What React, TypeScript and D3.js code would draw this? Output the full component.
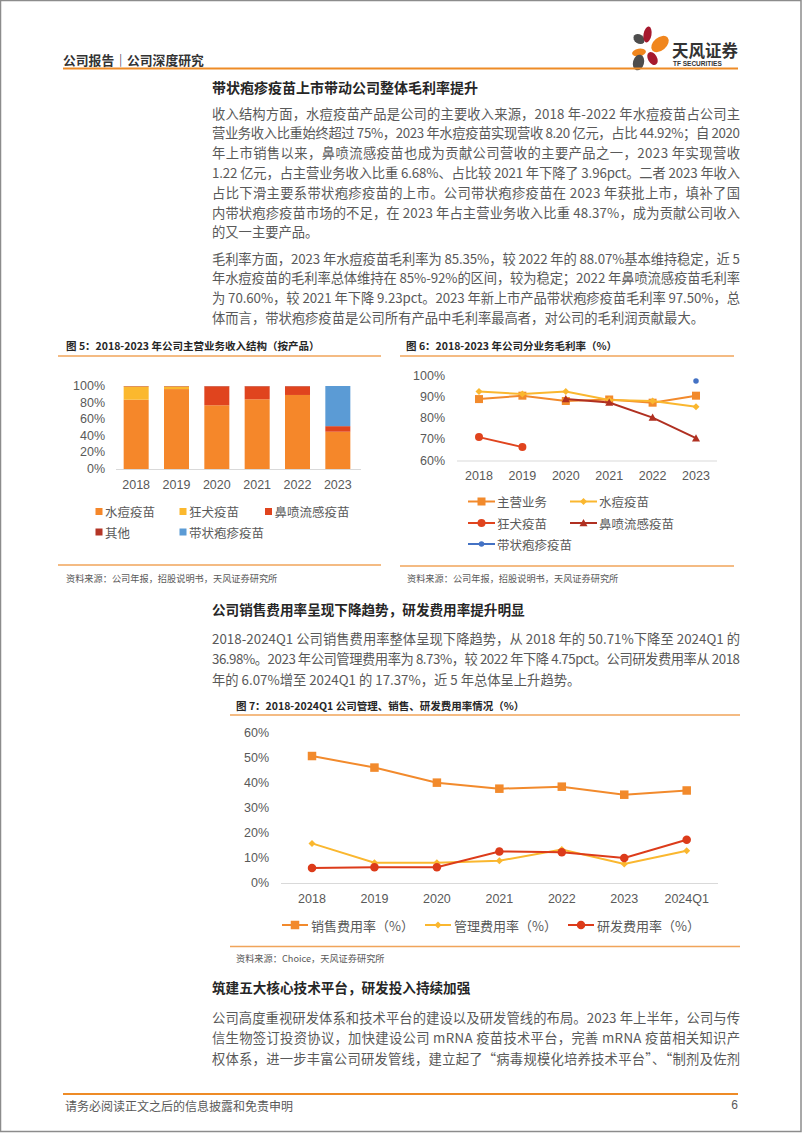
import React from 'react';
import * as d3 from 'd3';

const W = 802;
const H = 1133;
const CJK = '"Noto Sans CJK SC", "Noto Sans", sans-serif';
const NUM = '"Liberation Sans", Arial, sans-serif';

// ---------- Figure 5: revenue structure (stacked %, by product)
const years5 = ['2018', '2019', '2020', '2021', '2022', '2023'];
const shuidou5 = [83.5, 96.3, 76.8, 84.0, 89.2, 44.92];
const kuangquan5 = [16.0, 3.2, 0, 0, 0, 0];
const bipen5 = [0, 0, 22.7, 15.5, 10.3, 6.68];
const qita5 = [0.5, 0.5, 0.5, 0.5, 0.5, 0.03];
const daizhuang5 = [0, 0, 0, 0, 0, 48.37];
const keys5 = ['水痘疫苗', '狂犬疫苗', '鼻喷流感疫苗', '其他', '带状疱疹疫苗'];
const colors5 = ['#F5872A', '#FBB82E', '#E0441E', '#B43526', '#5B9BD5'];
const ticks5 = [0, 20, 40, 60, 80, 100];

// ---------- Figure 6: gross margin by business
const years6 = ['2018', '2019', '2020', '2021', '2022', '2023'];
const zhuying6: (number | null)[] = [89.0, 90.6, 88.1, 88.8, 87.3, 90.6];
const shuidou6: (number | null)[] = [92.6, 91.4, 92.6, 88.6, 88.07, 85.35];
const kuangquan6: (number | null)[] = [71.1, 66.4, null, null, null, null];
const bipen6: (number | null)[] = [null, null, 89.0, 87.4, 80.3, 70.6];
const daizhuang6: (number | null)[] = [null, null, null, null, null, 97.5];
const ticks6 = [60, 70, 80, 90, 100];

// ---------- Figure 7: expense ratios
const periods7 = ['2018', '2019', '2020', '2021', '2022', '2023', '2024Q1'];
const xiaoshou7 = [50.71, 46.1, 40.1, 37.7, 38.5, 35.3, 36.98];
const guanli7 = [15.9, 8.2, 8.2, 9.0, 13.48, 7.7, 13.0];
const yanfa7 = [6.07, 6.4, 6.4, 12.7, 12.4, 10.1, 17.37];
const ticks7 = [0, 10, 20, 30, 40, 50, 60];

// ---------- Text
const para1 = [
  '收入结构方面，水痘疫苗产品是公司的主要收入来源，2018 年-2022 年水痘疫苗占公司主',
  '营业务收入比重始终超过 75%，2023 年水痘疫苗实现营收 8.20 亿元，占比 44.92%；自 2020',
  '年上市销售以来，鼻喷流感疫苗也成为贡献公司营收的主要产品之一，2023 年实现营收',
  '1.22 亿元，占主营业务收入比重 6.68%、占比较 2021 年下降了 3.96pct。二者 2023 年收入',
  '占比下滑主要系带状疱疹疫苗的上市。公司带状疱疹疫苗在 2023 年获批上市，填补了国',
  '内带状疱疹疫苗市场的不足，在 2023 年占主营业务收入比重 48.37%，成为贡献公司收入',
  '的又一主要产品。',
];
const para2 = [
  '毛利率方面，2023 年水痘疫苗毛利率为 85.35%，较 2022 年的 88.07%基本维持稳定，近 5',
  '年水痘疫苗的毛利率总体维持在 85%-92%的区间，较为稳定；2022 年鼻喷流感疫苗毛利率',
  '为 70.60%，较 2021 年下降 9.23pct。2023 年新上市产品带状疱疹疫苗毛利率 97.50%，总',
  '体而言，带状疱疹疫苗是公司所有产品中毛利率最高者，对公司的毛利润贡献最大。',
];
const para3 = [
  '2018-2024Q1 公司销售费用率整体呈现下降趋势，从 2018 年的 50.71%下降至 2024Q1 的',
  '36.98%。2023 年公司管理费用率为 8.73%，较 2022 年下降 4.75pct。公司研发费用率从 2018',
  '年的 6.07%增至 2024Q1 的 17.37%，近 5 年总体呈上升趋势。',
];
const para4 = [
  '公司高度重视研发体系和技术平台的建设以及研发管线的布局。2023 年上半年，公司与传',
  '信生物签订投资协议，加快建设公司 mRNA 疫苗技术平台，完善 mRNA 疫苗相关知识产',
  '权体系，进一步丰富公司研发管线，建立起了“病毒规模化培养技术平台”、“制剂及佐剂',
];

const ORANGE_LINE = '#F0A45A';
const TEXT = '#595959';
const TITLE = '#262626';

function Para({ lines, y0, step, justifyLast }: { lines: string[]; y0: number; step: number; justifyLast?: boolean }) {
  return (
    <g>
      {lines.map((l, i) => {
        const full = i < lines.length - 1 || justifyLast;
        return (
          <text
            key={i}
            x={212}
            y={y0 + i * step}
            fontFamily={CJK}
            fontSize={13.3}
            fill={TEXT}
            dominantBaseline="central"
            {...(full ? { textLength: 528, lengthAdjust: 'spacing' } : {})}
          >
            {l}
          </text>
        );
      })}
    </g>
  );
}

function Marker({ type, x, y, s, color }: { type: string; x: number; y: number; s: number; color: string }) {
  if (type === 'square') return <rect x={x - s / 2} y={y - s / 2} width={s} height={s} fill={color} />;
  if (type === 'circle') return <circle cx={x} cy={y} r={s / 2} fill={color} />;
  if (type === 'diamond')
    return <path d={`M${x},${y - s / 2}L${x + s / 2},${y}L${x},${y + s / 2}L${x - s / 2},${y}Z`} fill={color} />;
  return <path d={`M${x},${y - s / 2}L${x + s / 2},${y + s * 0.4}L${x - s / 2},${y + s * 0.4}Z`} fill={color} />;
}

function Figure5() {
  const x = d3.scaleBand().domain(years5).range([116, 358]).paddingInner(0.38).paddingOuter(0.19);
  const y = d3.scaleLinear().domain([0, 100]).range([469, 386]);
  const rows = years5.map((yr, i) => ({
    yr,
    水痘疫苗: shuidou5[i],
    狂犬疫苗: kuangquan5[i],
    鼻喷流感疫苗: bipen5[i],
    其他: qita5[i],
    带状疱疹疫苗: daizhuang5[i],
  }));
  const stack = d3.stack<any>().keys(keys5)(rows);
  const legend = [
    { k: 0, x: 99, y: 511.5 },
    { k: 1, x: 183, y: 511.5 },
    { k: 2, x: 268.5, y: 511.5 },
    { k: 3, x: 99, y: 532 },
    { k: 4, x: 183, y: 532 },
  ];
  return (
    <g>
      <text x={66} y={345} fontFamily={CJK} fontSize={10.5} fontWeight="bold" fill={TITLE} dominantBaseline="central">
        图 5：2018-2023 年公司主营业务收入结构（按产品）
      </text>
      <line x1={58} x2={381} y1={356} y2={356} stroke={ORANGE_LINE} strokeWidth={1.3} />
      {ticks5.map((t) => (
        <text key={t} x={105} y={y(t)} textAnchor="end" dominantBaseline="central" fontFamily={NUM} fontSize={12.5} fill={TEXT}>
          {t}%
        </text>
      ))}
      {stack.map((s, si) => (
        <g key={si} fill={colors5[si]}>
          {s.map((d, i) =>
            d[1] - d[0] > 0 ? (
              <rect key={i} x={x(years5[i])} y={y(d[1])} width={x.bandwidth()} height={y(d[0]) - y(d[1])} />
            ) : null
          )}
        </g>
      ))}
      <line x1={116} x2={361} y1={469.5} y2={469.5} stroke="#D9D9D9" strokeWidth={1} />
      {years5.map((yr) => (
        <text key={yr} x={(x(yr) as number) + x.bandwidth() / 2} y={485} textAnchor="middle" dominantBaseline="central" fontFamily={NUM} fontSize={12.5} fill={TEXT}>
          {yr}
        </text>
      ))}
      {legend.map((l) => (
        <g key={l.k}>
          <rect x={l.x - 3.5} y={l.y - 3.5} width={7} height={7} fill={colors5[l.k]} />
          <text x={l.x + 6} y={l.y} dominantBaseline="central" fontFamily={CJK} fontSize={12.5} fill={TEXT}>
            {keys5[l.k]}
          </text>
        </g>
      ))}
      <line x1={58} x2={381} y1={565} y2={565} stroke={ORANGE_LINE} strokeWidth={1.3} />
      <text x={66} y={578} fontFamily={CJK} fontSize={9.2} fill={TEXT} dominantBaseline="central">
        资料来源：公司年报，招股说明书，天风证券研究所
      </text>
    </g>
  );
}

function Figure6() {
  const x = d3.scalePoint().domain(years6).range([479, 696]);
  const y = d3.scaleLinear().domain([60, 100]).range([460.7, 375.7]);
  const series = [
    { name: '主营业务', data: zhuying6, color: '#F28A2C', m: 'square', s: 8 },
    { name: '水痘疫苗', data: shuidou6, color: '#FAB72F', m: 'diamond', s: 7 },
    { name: '狂犬疫苗', data: kuangquan6, color: '#E0441E', m: 'circle', s: 8 },
    { name: '鼻喷流感疫苗', data: bipen6, color: '#B03021', m: 'triangle', s: 8 },
    { name: '带状疱疹疫苗', data: daizhuang6, color: '#4472C4', m: 'circle', s: 5.5 },
  ];
  const line = d3
    .line<number | null>()
    .defined((d) => d != null)
    .x((_, i) => x(years6[i]) as number)
    .y((d) => y(d as number));
  const legendPos = [
    { x: 468, y: 501.5 },
    { x: 570, y: 501.5 },
    { x: 468, y: 523 },
    { x: 570, y: 523 },
    { x: 468, y: 544 },
  ];
  return (
    <g>
      <text x={406} y={345} fontFamily={CJK} fontSize={10.5} fontWeight="bold" fill={TITLE} dominantBaseline="central">
        图 6：2018-2023 年公司分业务毛利率（%）
      </text>
      <line x1={400} x2={734} y1={356} y2={356} stroke={ORANGE_LINE} strokeWidth={1.3} />
      {ticks6.map((t) => (
        <text key={t} x={445} y={y(t)} textAnchor="end" dominantBaseline="central" fontFamily={NUM} fontSize={12.5} fill={TEXT}>
          {t}%
        </text>
      ))}
      <line x1={457} x2={717} y1={461} y2={461} stroke="#D9D9D9" strokeWidth={1} />
      {years6.map((yr) => (
        <text key={yr} x={x(yr)} y={476} textAnchor="middle" dominantBaseline="central" fontFamily={NUM} fontSize={12.5} fill={TEXT}>
          {yr}
        </text>
      ))}
      {series.map((s) => (
        <g key={s.name}>
          <path d={line(s.data) || ''} fill="none" stroke={s.color} strokeWidth={2} />
          {s.data.map((d, i) =>
            d != null ? <Marker key={i} type={s.m} x={x(years6[i]) as number} y={y(d)} s={s.s} color={s.color} /> : null
          )}
        </g>
      ))}
      {series.map((s, i) => {
        const p = legendPos[i];
        return (
          <g key={s.name}>
            <line x1={p.x} x2={p.x + 27} y1={p.y} y2={p.y} stroke={s.color} strokeWidth={2} />
            <Marker type={s.m} x={p.x + 13.5} y={p.y} s={s.s} color={s.color} />
            <text x={p.x + 29} y={p.y} dominantBaseline="central" fontFamily={CJK} fontSize={12.5} fill={TEXT}>
              {s.name}
            </text>
          </g>
        );
      })}
      <line x1={400} x2={734} y1={566} y2={566} stroke={ORANGE_LINE} strokeWidth={1.3} />
      <text x={407} y={578} fontFamily={CJK} fontSize={9.2} fill={TEXT} dominantBaseline="central">
        资料来源：公司年报，招股说明书，天风证券研究所
      </text>
    </g>
  );
}

function Figure7() {
  const x = d3.scalePoint().domain(periods7).range([312, 686.7]);
  const y = d3.scaleLinear().domain([0, 60]).range([883.3, 732.7]);
  const series = [
    { name: '销售费用率（%）', data: xiaoshou7, color: '#F28A2C', m: 'square', s: 8.5 },
    { name: '管理费用率（%）', data: guanli7, color: '#FAB72F', m: 'diamond', s: 7 },
    { name: '研发费用率（%）', data: yanfa7, color: '#DC3B1A', m: 'circle', s: 8.5 },
  ];
  const line = d3
    .line<number>()
    .x((_, i) => x(periods7[i]) as number)
    .y((d) => y(d));
  const legendX = [282, 425, 568];
  return (
    <g>
      <text x={236} y={705} fontFamily={CJK} fontSize={10.5} fontWeight="bold" fill={TITLE} dominantBaseline="central">
        图 7：2018-2024Q1 公司管理、销售、研发费用率情况（%）
      </text>
      <line x1={230} x2={740} y1={715} y2={715} stroke={ORANGE_LINE} strokeWidth={1.3} />
      {ticks7.map((t) => (
        <text key={t} x={269} y={y(t)} textAnchor="end" dominantBaseline="central" fontFamily={NUM} fontSize={12.5} fill={TEXT}>
          {t}%
        </text>
      ))}
      <line x1={281} x2={718} y1={883.5} y2={883.5} stroke="#D9D9D9" strokeWidth={1} />
      {periods7.map((p) => (
        <text key={p} x={x(p)} y={898.5} textAnchor="middle" dominantBaseline="central" fontFamily={NUM} fontSize={12.5} fill={TEXT}>
          {p}
        </text>
      ))}
      {series.map((s) => (
        <g key={s.name}>
          <path d={line(s.data) || ''} fill="none" stroke={s.color} strokeWidth={2} />
          {s.data.map((d, i) => (
            <Marker key={i} type={s.m} x={x(periods7[i]) as number} y={y(d)} s={s.s} color={s.color} />
          ))}
        </g>
      ))}
      {series.map((s, i) => (
        <g key={s.name}>
          <line x1={legendX[i]} x2={legendX[i] + 26} y1={925} y2={925} stroke={s.color} strokeWidth={2} />
          <Marker type={s.m} x={legendX[i] + 13} y={925} s={s.s} color={s.color} />
          <text x={legendX[i] + 29} y={925} dominantBaseline="central" fontFamily={CJK} fontSize={13} fill={TEXT}>
            {s.name}
          </text>
        </g>
      ))}
      <line x1={230} x2={740} y1={946.5} y2={946.5} stroke={ORANGE_LINE} strokeWidth={1.3} />
      <text x={236} y={958} fontFamily={CJK} fontSize={9.2} fill={TEXT} dominantBaseline="central">
        资料来源：Choice，天风证券研究所
      </text>
    </g>
  );
}

function Logo() {
  return (
    <g>
      <ellipse cx={639} cy={39} rx={6} ry={4.5} transform="rotate(35 639 39)" fill="#4D4D4D" />
      <ellipse cx={647.5} cy={34.5} rx={4} ry={8} transform="rotate(10 647.5 34.5)" fill="#A6192E" />
      <ellipse cx={660} cy={44} rx={10} ry={6.5} transform="rotate(-40 660 44)" fill="#F0861E" />
      <ellipse cx={639} cy={52.5} rx={7} ry={3.8} transform="rotate(-10 639 52.5)" fill="#F0861E" />
      <ellipse cx={652.5} cy={58.5} rx={4.5} ry={7} transform="rotate(-30 652.5 58.5)" fill="#A6192E" />
      <ellipse cx={638.5} cy={62.5} rx={5.5} ry={8} transform="rotate(15 638.5 62.5)" fill="#4D4D4D" />
      <text x={672} y={49.5} fontFamily={CJK} fontSize={16.5} fontWeight="bold" fill="#333" dominantBaseline="central">
        天风证券
      </text>
      <text x={673} y={63.5} fontFamily={NUM} fontSize={6.5} fontWeight="bold" fill="#333" dominantBaseline="central">
        TF SECURITIES
      </text>
    </g>
  );
}

export default function App() {
  const step = 19.8;
  return (
    <svg
      width={W}
      height={H}
      viewBox={`0 0 ${W} ${H}`}
      style={{ position: 'absolute', left: 0, top: 0, display: 'block', background: '#fff' }}
    >
      <rect x={0.5} y={0.5} width={W - 1.5} height={H - 2} fill="#fff" stroke="#8C8C8C" strokeWidth={1.5} />
      {/* header */}
      <text x={63} y={59} fontFamily={CJK} fontSize={12.8} fontWeight="bold" fill="#333" dominantBaseline="central">
        公司报告｜公司深度研究
      </text>
      <Logo />
      <line x1={63} x2={738} y1={68.5} y2={68.5} stroke="#EE8B26" strokeWidth={2} />

      <text x={212} y={87} fontFamily={CJK} fontSize={14} fontWeight="bold" fill={TITLE} dominantBaseline="central">
        带状疱疹疫苗上市带动公司整体毛利率提升
      </text>
      <Para lines={para1} y0={113} step={step} />
      <Para lines={para2} y0={258} step={step} />

      <Figure5 />
      <Figure6 />

      <text x={212} y={609} fontFamily={CJK} fontSize={13.6} fontWeight="bold" fill={TITLE} dominantBaseline="central">
        公司销售费用率呈现下降趋势，研发费用率提升明显
      </text>
      <Para lines={para3} y0={638} step={20.6} />

      <Figure7 />

      <text x={212} y={987} fontFamily={CJK} fontSize={13.6} fontWeight="bold" fill={TITLE} dominantBaseline="central">
        筑建五大核心技术平台，研发投入持续加强
      </text>
      <Para lines={para4} y0={1017} step={20.6} justifyLast />

      {/* footer */}
      <line x1={63} x2={738} y1={1094} y2={1094} stroke="#EE8B26" strokeWidth={2} />
      <text x={65} y={1105} fontFamily={CJK} fontSize={12} fill={TEXT} dominantBaseline="central">
        请务必阅读正文之后的信息披露和免责申明
      </text>
      <text x={738} y={1105} textAnchor="end" fontFamily={NUM} fontSize={12} fill={TEXT} dominantBaseline="central">
        6
      </text>
    </svg>
  );
}
